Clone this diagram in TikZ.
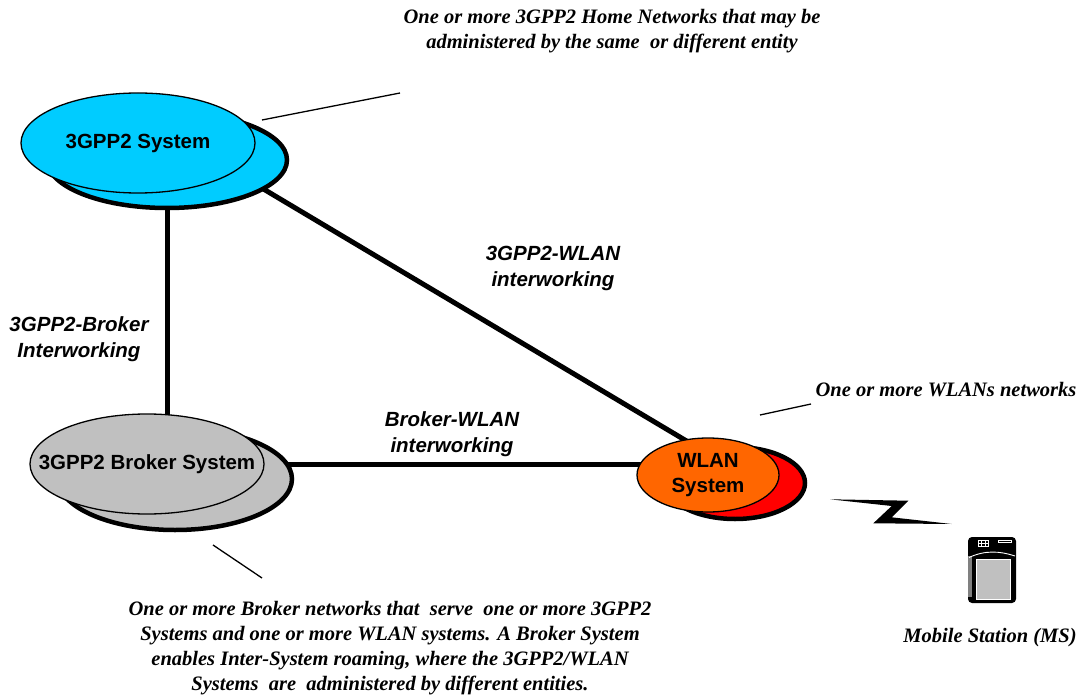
\documentclass[tikz,border=0pt]{standalone}
\usepackage{fontspec}
\setmainfont{Liberation Serif}
\setsansfont{Liberation Sans}
\usetikzlibrary{shapes.geometric,backgrounds}
\definecolor{sysblue}{RGB}{0,204,255}
\definecolor{brokergray}{RGB}{192,192,192}
\definecolor{wlanorange}{RGB}{255,102,0}
\definecolor{wlanred}{RGB}{255,0,0}
\tikzset{
  back/.style={ellipse, draw, line width=4.5pt, inner sep=0pt},
  front/.style={ellipse, draw, line width=1.3pt, inner sep=0pt, align=center,
    font=\sffamily\bfseries\fontsize{20.5}{25}\selectfont},
  link/.style={line width=5pt, shorten <=-3pt, shorten >=-3pt},
  pointer/.style={line width=1.3pt},
  note/.style={align=center, inner sep=0pt, font=\bfseries\itshape\fontsize{20.5}{25}\selectfont},
  linklabel/.style={align=center, inner sep=0pt, font=\sffamily\bfseries\itshape\fontsize{20.5}{26}\selectfont},
}
\begin{document}
\begin{tikzpicture}[x=1pt,y=-1pt]
  \useasboundingbox (0,0) rectangle (1083,700);

  \node[back, fill=sysblue, minimum width=240pt, minimum height=96pt] (SystemBack) at (167,160) {};
  \node[front, fill=sysblue, minimum width=234pt, minimum height=100pt] (System) at (138,143) {3GPP2 System};

  \node[back, fill=brokergray, minimum width=234pt, minimum height=102pt] (BrokerBack) at (175,479) {};
  \node[front, fill=brokergray, minimum width=234pt, minimum height=100pt] (Broker) at (147,464) {\makebox[0pt]{3GPP2 Broker System}};

  \node[back, fill=wlanred, minimum width=140pt, minimum height=72pt] (WLANBack) at (735,483) {};
  \node[front, fill=wlanorange, minimum width=142pt, minimum height=74pt] (WLAN) at (708,475) {WLAN\\System};

  \begin{pgfonlayer}{background}
    \draw[link] (SystemBack) to (SystemBack |- Broker);
    \draw[link] (SystemBack.-17) to (WLAN.124);
    \draw[link] (Broker) to (Broker -| WLAN);
  \end{pgfonlayer}

  \node[linklabel] (BrokerLink) at (79,339) {3GPP2-Broker\\Interworking};
  \node[linklabel] (WLANLink) at (553,268) {3GPP2-WLAN\\interworking};
  \node[linklabel] (BrokerWLANLink) at (452,434) {Broker-WLAN\\interworking};

  \node[note] (HomeNote) at (612,31) {One or more 3GPP2 Home Networks that may be\\administered by the same\ \ or different entity};
  \node[note] (WLANNote) at (946,390) {One or more WLANs networks};
  \node[note] (BrokerNote) at (390,648) {One or more Broker networks that\ \ serve\ \ one or more 3GPP2\\Systems and one or more WLAN systems. A Broker System\\enables Inter-System roaming, where the 3GPP2/WLAN\\Systems\ \ are\ \ administered by different entities.};
  \node[note] (MSNote) at (990,638) {Mobile Station (MS)};

  \coordinate (HomeA) at (262,120);
  \coordinate (HomeB) at (400,93);
  \coordinate (WLANA) at (760,415);
  \coordinate (WLANB) at (811,404);
  \coordinate (BrokerA) at (213,545);
  \coordinate (BrokerB) at (262,578);
  \draw[pointer] (HomeA) to (HomeB);
  \draw[pointer] (WLANA) to (WLANB);
  \draw[pointer] (BrokerA) to (BrokerB);

  % radio link
  \fill (830,499.3) -- (908.3,500.7) -- (891.7,517.3) -- (951.7,524) -- (873.3,523.3) -- (891.7,506) -- cycle;

  % mobile station
  \fill[rounded corners=4pt] (968,603) -- (968,537) -- (1016,537) -- (1016,603) -- cycle;
  \fill[gray] (968,556) rectangle (971.5,597);
  \draw[white, line width=0.9pt] (969,557.5) .. controls (985,550) and (1000,551) .. (1015,556);
  \fill[brokergray, draw=white, line width=0.8pt] (976.7,559.5) rectangle (1010.7,599);
  \draw[white, line width=0.7pt] (978.5,540) rectangle (988.5,546.5)
    (981.8,540) -- (981.8,546.5) (985.2,540) -- (985.2,546.5) (978.5,543.2) -- (988.5,543.2);
  \draw[white, line width=0.7pt] (998.5,540) rectangle (1011.5,542.8);
\end{tikzpicture}
\end{document}
